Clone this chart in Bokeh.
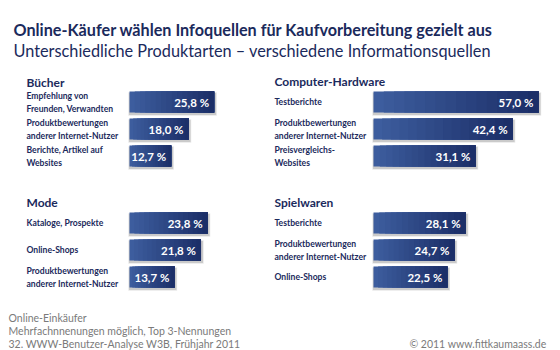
from bokeh.plotting import figure
from bokeh.models import Range1d, Label, ColumnDataSource
from bokeh.core.properties import value
from bokeh.embed import file_html
from bokeh.resources import INLINE

# ---------------- data ----------------
title = "Online-Käufer wählen Infoquellen für Kaufvorbereitung gezielt aus"
subtitle = "Unterschiedliche Produktarten – verschiedene Informationsquellen"

buecher_cats = ["Empfehlung von\nFreunden, Verwandten",
                "Produktbewertungen\nanderer Internet-Nutzer",
                "Berichte, Artikel auf\nWebsites"]
buecher_vals = [25.8, 18.0, 12.7]

hardware_cats = ["Testberichte",
                 "Produktbewertungen\nanderer Internet-Nutzer",
                 "Preisvergleichs-\nWebsites"]
hardware_vals = [57.0, 42.4, 31.1]

mode_cats = ["Kataloge, Prospekte",
             "Online-Shops",
             "Produktbewertungen\nanderer Internet-Nutzer"]
mode_vals = [23.8, 21.8, 13.7]

spiel_cats = ["Testberichte",
              "Produktbewertungen\nanderer Internet-Nutzer",
              "Online-Shops"]
spiel_vals = [28.1, 24.7, 22.5]

footer_lines = ["Online-Einkäufer",
                "Mehrfachnnenungen möglich, Top 3-Nennungen",
                "32. WWW-Benutzer-Analyse W3B, Frühjahr 2011"]
copyright_text = "© 2011 www.fittkaumaass.de"

# ---------------- style ----------------
W, H = 560, 350
BAR_LIMIT_PX = 538          # long bars are cut off here (as in the original)
PX_PER_PCT = 3.28
ROW_PX = 27
NAVY = "#1b2a5c"
GREY = "#7a7a7a"
FONT = "Lato"
GRAD_L = (61, 93, 158)
GRAD_R = (28, 47, 104)
NSLICE = 16
BAR_H = 21 / ROW_PX


def xrange_for(bar_start_px):
    s = -bar_start_px / PX_PER_PCT
    return Range1d(start=s, end=s + W / PX_PER_PCT)


def yrange_for(first_center_px):
    e = -first_center_px / ROW_PX
    return Range1d(start=e + H / ROW_PX, end=e)


p = figure(width=W, height=H, output_backend="svg", toolbar_location=None,
           x_range=xrange_for(129), y_range=yrange_for(101.5),
           min_border_left=0, min_border_right=0,
           min_border_top=0, min_border_bottom=0)
p.extra_x_ranges = {"right": xrange_for(373)}
p.extra_y_ranges = {"bottom": yrange_for(222.5)}
p.axis.visible = False
p.grid.visible = False
p.outline_line_color = None
p.background_fill_color = "white"
p.border_fill_color = "white"


def grad_color(t):
    c = [round(a + (b - a) * t) for a, b in zip(GRAD_L, GRAD_R)]
    return "#%02x%02x%02x" % tuple(c)


def panel(cats, vals, xname, yname, label_offset):
    xr = p.x_range if xname == "default" else p.extra_x_ranges[xname]
    limit = xr.end - (W - BAR_LIMIT_PX) / PX_PER_PCT
    rows = list(range(len(vals)))
    vis = [min(v, limit) for v in vals]
    kw = {}
    if xname != "default":
        kw["x_range_name"] = xname
    if yname != "default":
        kw["y_range_name"] = yname
    # soft shadow
    for grow, alpha in ((1.2, 0.09), (0.5, 0.13)):
        src = ColumnDataSource(dict(
            y=[r + 2.0 / ROW_PX for r in rows],
            left=[-grow / PX_PER_PCT for _ in rows],
            right=[v + (1.5 + grow) / PX_PER_PCT for v in vis]))
        p.hbar(y="y", left="left", right="right", height=BAR_H + 2 * grow / ROW_PX,
               source=src, fill_color="black", fill_alpha=alpha, line_color=None, **kw)
    # gradient bars
    ys, lefts, rights, cols = [], [], [], []
    for r, v in zip(rows, vis):
        for i in range(NSLICE):
            ys.append(r)
            lefts.append(v * i / NSLICE)
            rights.append(v)
            cols.append(grad_color(i / (NSLICE - 1)))
    p.hbar(y=ys, left=lefts, right=rights, height=BAR_H, fill_color=cols,
           line_color=None, **kw)
    # value labels
    p.text(x=vis, y=rows, text=[f"{v:.1f}".replace(".", ",") + " %" for v in vals],
           x_offset=-5, text_align="right", text_baseline="middle",
           text_font=value(FONT), text_font_style="bold", text_font_size="11.5px",
           text_color="white", **kw)
    # category labels
    p.text(x=[0] * len(vals), y=rows, text=cats, x_offset=label_offset,
           text_align="left", text_baseline="middle", text_font=value(FONT),
           text_font_style="bold", text_font_size="8.6px", text_line_height=1.3,
           text_color=NAVY, **kw)


panel(buecher_cats, buecher_vals, "default", "default", -103)
panel(hardware_cats, hardware_vals, "right", "default", -99)
panel(mode_cats, mode_vals, "default", "bottom", -103)
panel(spiel_cats, spiel_vals, "right", "bottom", -99)


def screen_label(text, x, baseline, size, style="normal", color=NAVY, align="left"):
    p.add_layout(Label(x=x, y=H - baseline, x_units="screen", y_units="screen",
                       text=text, text_font=FONT, text_font_size=size,
                       text_font_style=style, text_color=color, text_align=align,
                       text_baseline="alphabetic"))


screen_label(title, 13, 29, "16.2px", "bold")
screen_label(subtitle, 13, 50, "16.3px")
screen_label("Bücher", 26, 82, "12px", "bold")
screen_label("Computer-Hardware", 274, 81, "12px", "bold")
screen_label("Mode", 26, 202, "12px", "bold")
screen_label("Spielwaren", 274, 202, "12px", "bold")
for i, line in enumerate(footer_lines):
    screen_label(line, 8, 317 + i * 13, "10.5px", color=GREY)
screen_label(copyright_text, 546, 343, "10.5px", color=GREY, align="right")

open("out.html", "w").write(file_html(p, INLINE))
